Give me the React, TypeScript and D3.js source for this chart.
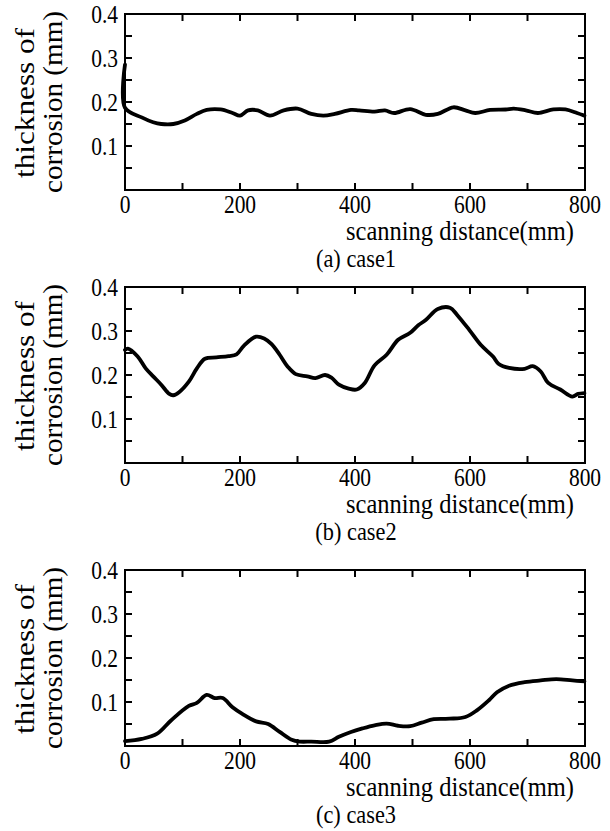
import React from "react";
import * as d3 from "d3";

const distA = [0, 0, 29, 49, 63, 84, 104, 125, 142, 166, 187, 200, 214, 231, 252, 276, 300, 324, 345, 365, 393, 407, 434, 452, 468, 496, 523, 544, 571, 592, 609, 635, 662, 676, 697, 718, 745, 766, 786, 799];
const thickA = [0.285, 0.187, 0.165, 0.154, 0.15, 0.15, 0.158, 0.173, 0.182, 0.183, 0.175, 0.169, 0.181, 0.181, 0.169, 0.181, 0.185, 0.173, 0.169, 0.173, 0.182, 0.181, 0.178, 0.181, 0.175, 0.184, 0.171, 0.173, 0.188, 0.181, 0.175, 0.182, 0.183, 0.185, 0.181, 0.175, 0.183, 0.183, 0.175, 0.169];

const distB = [0, 5, 22, 36, 49, 63, 77, 84, 94, 111, 125, 139, 159, 180, 194, 207, 228, 242, 255, 269, 283, 297, 317, 331, 348, 359, 372, 389, 403, 417, 434, 455, 475, 496, 510, 523, 544, 565, 578, 599, 619, 640, 650, 668, 695, 709, 723, 736, 757, 778, 788, 799];
const thickB = [0.257, 0.26, 0.242, 0.215, 0.197, 0.178, 0.157, 0.154, 0.161, 0.185, 0.215, 0.237, 0.24, 0.243, 0.247, 0.267, 0.287, 0.283, 0.27, 0.246, 0.219, 0.202, 0.197, 0.193, 0.2, 0.194, 0.178, 0.169, 0.167, 0.182, 0.222, 0.246, 0.28, 0.296, 0.313, 0.325, 0.35, 0.353, 0.336, 0.302, 0.268, 0.242, 0.225, 0.216, 0.214, 0.22, 0.208, 0.182, 0.167, 0.151, 0.157, 0.159];

const distC = [0, 29, 56, 80, 111, 125, 142, 156, 170, 187, 204, 228, 249, 269, 290, 304, 324, 355, 372, 393, 413, 434, 455, 475, 496, 516, 537, 565, 592, 612, 633, 647, 668, 695, 723, 750, 778, 799];
const thickC = [0.011, 0.016, 0.028, 0.058, 0.091, 0.098, 0.116, 0.109, 0.109, 0.088, 0.073, 0.056, 0.05, 0.032, 0.014, 0.01, 0.01, 0.01, 0.021, 0.032, 0.04, 0.047, 0.051, 0.046, 0.045, 0.053, 0.061, 0.062, 0.066, 0.081, 0.104, 0.122, 0.137, 0.145, 0.149, 0.152, 0.149, 0.147];

const xTickLabels = [0, 200, 400, 600, 800];
const xMinorTicks = [100, 200, 300, 400, 500, 600, 700];
const yTickLabels = [0.1, 0.2, 0.3, 0.4];
const yMinorTicks = [0.05, 0.1, 0.15, 0.2, 0.25, 0.3, 0.35];
const captions = ["(a) case1", "(b) case2", "(c) case3"];
const xTitle = "scanning distance(mm)";
const yTitle1 = "thickness of";
const yTitle2 = "corrosion (mm)";

const W = 610;
const H = 831;
const left = 125;
const right = 585;
const panelTops = [14, 287, 570];
const panelH = 176;
const FF = "Liberation Serif, Tinos, Times New Roman, serif";
const SX = 0.86;

function CText({ x, y, anchor, size, children }: { x: number; y: number; anchor: string; size: number; children: React.ReactNode }) {
  return (
    <text transform={`translate(${x},${y}) scale(${SX},1)`} textAnchor={anchor} fontSize={size} fontFamily={FF} fill="#000">
      {children}
    </text>
  );
}

function Panel({ top, dist, thick, caption }: { top: number; dist: number[]; thick: number[]; caption: string }) {
  const x = d3.scaleLinear().domain([0, 800]).range([left, right]);
  const y = d3.scaleLinear().domain([0, 0.4]).range([top + panelH, top]);
  const pts = dist.map((d, i) => [d, thick[i]] as [number, number]);
  const line = d3
    .line<[number, number]>()
    .x((d) => x(d[0]))
    .y((d) => y(d[1]))
    .curve(d3.curveCatmullRom.alpha(0.5));
  const bottom = top + panelH;
  const tl = 7;
  const midY = (top + bottom) / 2;
  return (
    <g>
      <path d={line(pts) || ""} fill="none" stroke="#000" strokeWidth={3.8} strokeLinejoin="round" strokeLinecap="round" />
      <rect x={left} y={top} width={right - left} height={panelH} fill="none" stroke="#000" strokeWidth={2} />
      {xMinorTicks.map((t) => (
        <g key={"x" + t}>
          <line x1={x(t)} x2={x(t)} y1={bottom} y2={bottom - tl} stroke="#000" strokeWidth={2} />
          <line x1={x(t)} x2={x(t)} y1={top} y2={top + tl} stroke="#000" strokeWidth={2} />
        </g>
      ))}
      {yMinorTicks.map((t) => (
        <g key={"y" + t}>
          <line x1={left} x2={left + tl} y1={y(t)} y2={y(t)} stroke="#000" strokeWidth={2} />
          <line x1={right} x2={right - tl} y1={y(t)} y2={y(t)} stroke="#000" strokeWidth={2} />
        </g>
      ))}
      {xTickLabels.map((t) => (
        <CText key={"xl" + t} x={x(t)} y={bottom + 23} anchor="middle" size={25}>
          {t}
        </CText>
      ))}
      {yTickLabels.map((t) => (
        <CText key={"yl" + t} x={left - 7} y={y(t) + 9} anchor="end" size={25}>
          {t.toFixed(1)}
        </CText>
      ))}
      <text x={574} y={bottom + 50} textAnchor="end" fontSize={27} fontFamily={FF} textLength={228} lengthAdjust="spacingAndGlyphs">
        {xTitle}
      </text>
      <CText x={356} y={bottom + 77} anchor="middle" size={26}>
        {caption}
      </CText>
      <text transform={`translate(34,${midY + 1}) rotate(-90)`} textAnchor="middle" fontSize={28} fontFamily={FF} textLength={150} lengthAdjust="spacingAndGlyphs">
        {yTitle1}
      </text>
      <text transform={`translate(62,${midY}) rotate(-90)`} textAnchor="middle" fontSize={28} fontFamily={FF} textLength={182} lengthAdjust="spacingAndGlyphs">
        {yTitle2}
      </text>
    </g>
  );
}

export default function App() {
  const dists = [distA, distB, distC];
  const thicks = [thickA, thickB, thickC];
  return (
    <svg width={W} height={H} style={{ position: "absolute", left: 0, top: 0, background: "#fff" }}>
      <rect width={W} height={H} fill="#fff" />
      {panelTops.map((t, i) => (
        <Panel key={i} top={t} dist={dists[i]} thick={thicks[i]} caption={captions[i]} />
      ))}
    </svg>
  );
}
